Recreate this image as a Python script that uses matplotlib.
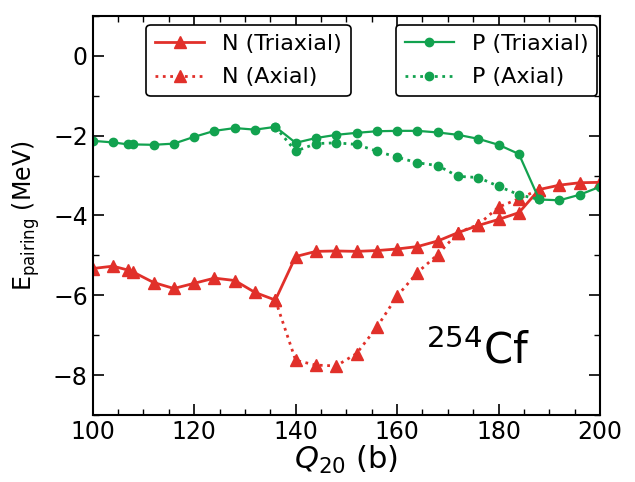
"""Pairing energies of 254Cf along the fission path, triaxial vs axial."""

import matplotlib
matplotlib.use("Agg")
import matplotlib.pyplot as plt
from matplotlib.ticker import MultipleLocator

# Quadrupole moments (b)
Q20_TRIAX = [100, 104, 107, 108, 112, 116, 120, 124, 128, 132, 136, 140, 144, 148,
             152, 156, 160, 164, 168, 172, 176, 180, 184, 188, 192, 196, 200]
Q20_AXIAL = [136, 140, 144, 148, 152, 156, 160, 164, 168, 172, 176, 180, 184, 188]

# Neutron pairing energy (MeV)
N_TRIAX = [-5.33, -5.27, -5.37, -5.42, -5.68, -5.83, -5.70, -5.57, -5.63, -5.93,
           -6.12, -5.03, -4.90, -4.89, -4.90, -4.88, -4.84, -4.78, -4.64, -4.43,
           -4.25, -4.10, -3.93, -3.35, -3.24, -3.18, -3.17]
N_AXIAL = [-6.12, -7.63, -7.75, -7.77, -7.46, -6.80, -6.02, -5.43, -4.98, -4.43,
           -4.23, -3.79, -3.58, -3.35]

# Proton pairing energy (MeV)
P_TRIAX = [-2.13, -2.17, -2.22, -2.22, -2.23, -2.20, -2.03, -1.88, -1.81, -1.85,
           -1.78, -2.18, -2.06, -1.98, -1.93, -1.89, -1.88, -1.88, -1.92, -1.98,
           -2.08, -2.23, -2.46, -3.60, -3.62, -3.48, -3.28]
P_AXIAL = [-1.78, -2.39, -2.20, -2.18, -2.22, -2.39, -2.54, -2.68, -2.75, -3.02,
           -3.05, -3.27, -3.48, -3.60]

RED = "#e1302a"
GREEN = "#12a24f"

fig = plt.figure(figsize=(6.35, 4.82), dpi=100)
ax = fig.add_axes([0.146, 0.139, 0.799, 0.828])

n_tri, = ax.plot(Q20_TRIAX, N_TRIAX, color=RED, lw=2, marker="^", ms=8,
                 label="N (Triaxial)")
n_ax, = ax.plot(Q20_AXIAL, N_AXIAL, color=RED, lw=2, ls=":", marker="^", ms=8,
                label="N (Axial)")
p_tri, = ax.plot(Q20_TRIAX, P_TRIAX, color=GREEN, lw=1.6, marker="o", ms=6,
                 label="P (Triaxial)")
p_ax, = ax.plot(Q20_AXIAL, P_AXIAL, color=GREEN, lw=2, ls=":", marker="o", ms=6,
                label="P (Axial)")

ax.set_xlim(100, 200)
ax.set_ylim(-9, 1)
ax.xaxis.set_major_locator(MultipleLocator(20))
ax.xaxis.set_minor_locator(MultipleLocator(5))
ax.yaxis.set_major_locator(MultipleLocator(2))
ax.yaxis.set_minor_locator(MultipleLocator(1))
ax.tick_params(which="both", direction="in", top=True, right=True, labelsize=17)
ax.tick_params(which="major", length=8, width=1.2)
ax.tick_params(which="minor", length=4, width=1)
for spine in ax.spines.values():
    spine.set_linewidth(1.5)

ax.set_xlabel("$Q_{20}$ (b)", fontsize=22, labelpad=0)
ax.set_ylabel("E$_{\\rm pairing}$ (MeV)", fontsize=17, labelpad=8)

# two separate legends: neutrons on the left, protons on the right
leg1 = ax.legend(handles=[n_tri, n_ax], loc="upper left",
                 bbox_to_anchor=(0.106, 0.978), borderaxespad=0, fontsize=16,
                 edgecolor="black", framealpha=1, handlelength=2.2,
                 labelspacing=0.62)
leg1.get_frame().set_linewidth(1.2)
ax.add_artist(leg1)
leg2 = ax.legend(handles=[p_tri, p_ax], loc="upper right",
                 bbox_to_anchor=(0.994, 0.978), borderaxespad=0, fontsize=16,
                 edgecolor="black", framealpha=1, handlelength=2.2,
                 labelspacing=0.62)
leg2.get_frame().set_linewidth(1.2)

ax.text(176, -7.4, "$^{254}$Cf", fontsize=30, ha="center", va="center")

fig.savefig("out.png", dpi=100)
